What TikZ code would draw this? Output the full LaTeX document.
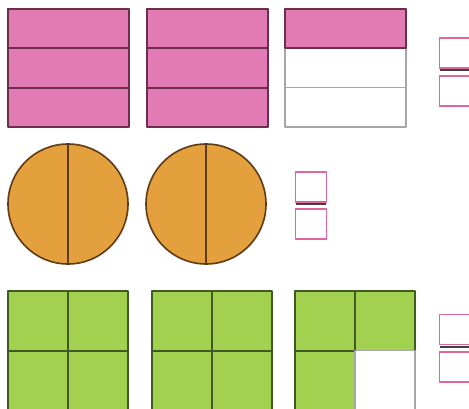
\documentclass[tikz,border=0pt]{standalone}
\definecolor{pinkfill}{HTML}{E27BB4}
\definecolor{pinkline}{HTML}{6B2E4C}
\definecolor{orangefill}{HTML}{E4A03C}
\definecolor{orangeline}{HTML}{5E3A16}
\definecolor{greenfill}{HTML}{A2D14F}
\definecolor{greenline}{HTML}{3F5A22}
\definecolor{boxline}{HTML}{E0649E}
\tikzset{
  answer/.style={draw=boxline, line width=1.8pt, minimum width=31pt, minimum height=30pt, inner sep=0pt},
  fracbar/.style={draw=black!75, line width=2pt},
}
\begin{document}
\begin{tikzpicture}[x=1pt, y=-1pt, line join=round]
    \useasboundingbox (0,0) rectangle (469,408);

    % Top row: squares cut into thirds
    \foreach \x/\n in {8/3, 147/3, 285/1} {
        \foreach \i in {1,2,3} {
            \ifnum\i>\n
                \draw[gray!70, fill=white, line width=1.6pt] (\x,{9+(\i-1)*39.33}) rectangle ++(121,39.33);
            \else
                \draw[pinkline, fill=pinkfill, line width=2pt] (\x,{9+(\i-1)*39.33}) rectangle ++(121,39.33);
            \fi
        }
        \draw[pinkline, line width=2pt] (\x,9) rectangle ++(121,39.33);
    }
    \node[answer] (n1) at (455,53) {};
    \node[answer] (d1) at (455,91) {};
    \draw[fracbar] ([xshift=1pt,yshift=-1.5pt]n1.south west) -- ([xshift=-1pt,yshift=-1.5pt]n1.south east);

    % Middle row: circles cut into halves
    \foreach \x in {68, 206} {
        \draw[orangeline, fill=orangefill, line width=1.6pt] (\x,204) circle (60);
        \draw[orangeline, line width=2.6pt] (\x,144) -- (\x,264);
    }
    \node[answer] (n2) at (311,187) {};
    \node[answer] (d2) at (311,224) {};
    \draw[fracbar] ([xshift=1pt,yshift=-1.5pt]n2.south west) -- ([xshift=-1pt,yshift=-1.5pt]n2.south east);

    % Bottom row: squares cut into quarters
    \foreach \x/\n in {8/4, 152/4, 295/3} {
        \foreach \i/\j [count=\k] in {0/0, 1/0, 0/1, 1/1} {
            \ifnum\k>\n
                \draw[gray!70, fill=white, line width=1.6pt] ({\x+\i*60},{291+\j*59.5}) rectangle ++(60,59.5);
            \else
                \draw[greenline, fill=greenfill, line width=2pt] ({\x+\i*60},{291+\j*59.5}) rectangle ++(60,59.5);
            \fi
        }
    }
    \node[answer] (n3) at (455,329.5) {};
    \node[answer] (d3) at (455,367) {};
    \draw[fracbar] ([xshift=1pt,yshift=-1.5pt]n3.south west) -- ([xshift=-1pt,yshift=-1.5pt]n3.south east);
\end{tikzpicture}
\end{document}
